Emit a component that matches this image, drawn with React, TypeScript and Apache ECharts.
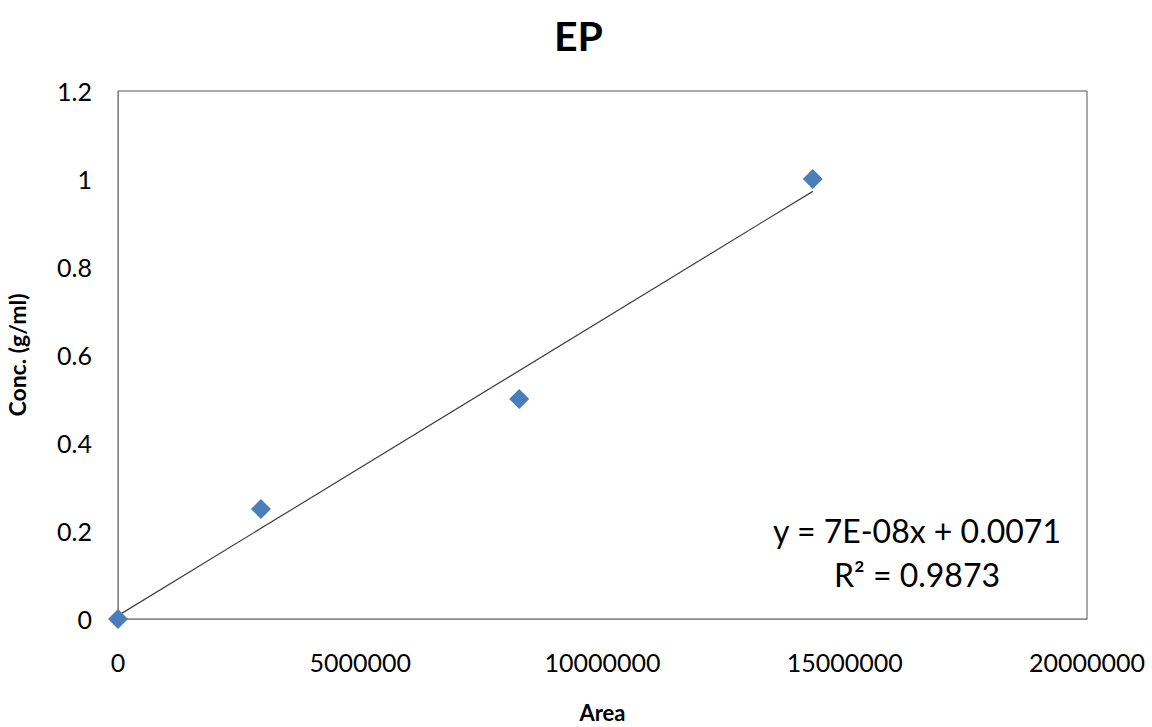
import React, { useEffect, useRef } from "react";
import * as echarts from "echarts";

const areaValues = [0, 2950000, 8280000, 14340000];
const concValues = [0, 0.25, 0.5, 1.0];
const equationText = "y = 7E-08x + 0.0071";
const r2Text = "R² = 0.9873";

function fit(xs: number[], ys: number[]) {
  const n = xs.length;
  const mx = xs.reduce((a, b) => a + b, 0) / n;
  const my = ys.reduce((a, b) => a + b, 0) / n;
  let sxy = 0, sxx = 0;
  for (let i = 0; i < n; i++) {
    sxy += (xs[i] - mx) * (ys[i] - my);
    sxx += (xs[i] - mx) * (xs[i] - mx);
  }
  const slope = sxy / sxx;
  return { slope, intercept: my - slope * mx };
}

export default function App() {
  const ref = useRef<HTMLDivElement>(null);
  useEffect(() => {
    if (!ref.current) return;
    const chart = echarts.init(ref.current, undefined, { renderer: "svg" });
    const { slope, intercept } = fit(areaValues, concValues);
    const xMin = Math.min(...areaValues);
    const xMax = Math.max(...areaValues);
    const font = "Lato, 'Open Sans', sans-serif";
    chart.setOption({
      animation: false,
      backgroundColor: "#ffffff",
      title: {
        text: "EP",
        left: 549,
        top: 10,
        textStyle: { fontFamily: font, fontSize: 41, fontWeight: "bold", color: "#000" },
      },
      grid: {
        left: 118,
        top: 91,
        width: 969,
        height: 528,
        containLabel: false,
        outerBoundsMode: "none",
        show: true,
        borderColor: "#555",
        borderWidth: 1,
        backgroundColor: "transparent",
      },
      xAxis: {
        type: "value",
        min: 0,
        max: 20000000,
        interval: 5000000,
        name: "Area",
        nameLocation: "middle",
        nameGap: 82,
        nameTextStyle: { fontFamily: font, fontSize: 22, fontWeight: "bold", color: "#000" },
        axisLine: { show: true, lineStyle: { color: "#888", width: 1 } },
        axisTick: { show: false },
        splitLine: { show: false },
        axisLabel: { fontFamily: font, fontSize: 25, color: "#000", margin: 30, formatter: (v: number) => String(v) },
      },
      yAxis: {
        type: "value",
        min: 0,
        max: 1.2,
        interval: 0.2,
        name: "Conc. (g/ml)",
        nameLocation: "middle",
        nameGap: 90,
        nameRotate: 90,
        nameTextStyle: { fontFamily: font, fontSize: 23, fontWeight: "bold", color: "#000" },
        axisLine: { show: true, lineStyle: { color: "#888", width: 1 } },
        axisTick: { show: false },
        splitLine: { show: false },
        axisLabel: {
          fontFamily: font,
          fontSize: 25,
          color: "#000",
          margin: 26,
          formatter: (v: number) => String(Math.round(v * 10) / 10),
        },
      },
      series: [
        {
          type: "line",
          data: [
            [xMin, slope * xMin + intercept],
            [xMax, slope * xMax + intercept],
          ],
          showSymbol: false,
          symbol: "none",
          lineStyle: { color: "#404040", width: 1.2 },
          z: 2,
        },
        {
          type: "scatter",
          data: areaValues.map((x, i) => [x, concValues[i]]),
          symbol: "diamond",
          symbolSize: [20, 20],
          itemStyle: { color: "#4a7ebb", opacity: 1 },
          z: 3,
        },
      ],
      graphic: [
        {
          type: "text",
          x: 917,
          y: 530,
          style: { text: equationText, fontFamily: font, fontSize: 32, fill: "#000", align: "center", verticalAlign: "middle" },
        },
        {
          type: "text",
          x: 917,
          y: 574,
          style: { text: r2Text, fontFamily: font, fontSize: 32, fill: "#000", align: "center", verticalAlign: "middle" },
        },
      ],
    });
    return () => chart.dispose();
  }, []);
  return <div ref={ref} style={{ width: 1152, height: 727, position: "fixed", left: 0, top: 0 }} />;
}
